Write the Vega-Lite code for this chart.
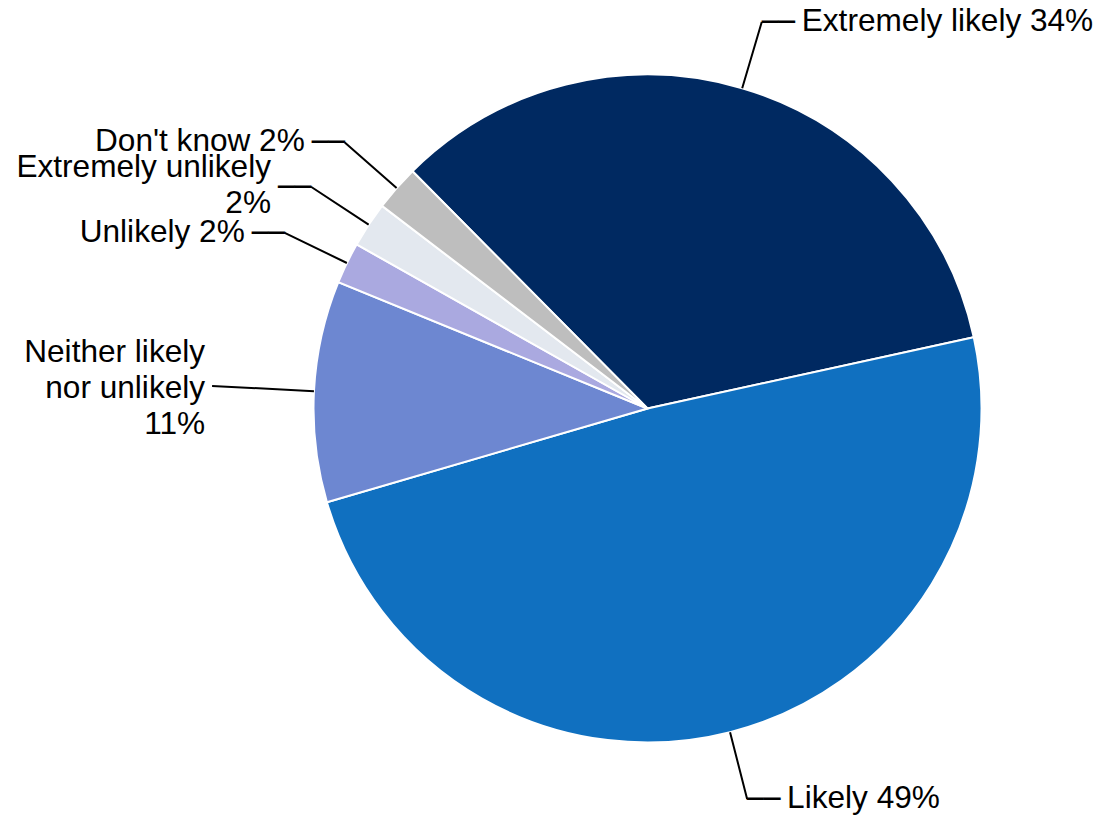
{
  "$schema": "https://vega.github.io/schema/vega-lite/v6.json",
  "width": 907,
  "height": 811,
  "autosize": "none",
  "padding": {"left": 194, "top": 3, "right": 1, "bottom": 1},
  "background": "white",
  "view": {"stroke": null},
  "data": {
    "values": [
      {"category": "Extremely likely", "value": 34.0, "label": "Extremely likely 34%"},
      {"category": "Likely", "value": 48.9, "label": "Likely 49%"},
      {"category": "Neither likely nor unlikely", "value": 10.7, "label": "Neither likely\nnor unlikely\n11%"},
      {"category": "Unlikely", "value": 2.0, "label": "Unlikely 2%"},
      {"category": "Extremely unlikely", "value": 2.2, "label": "Extremely unlikely\n2%"},
      {"category": "Don't know", "value": 2.2, "label": "Don't know 2%"}
    ]
  },
  "transform": [{"window": [{"op": "row_number", "as": "rank"}]}],
  "encoding": {
    "theta": {"field": "value", "type": "quantitative", "stack": true, "scale": {"range": [-0.7807, 5.5025]}},
    "order": {"field": "rank", "type": "quantitative"},
    "detail": {"field": "category", "type": "nominal"}
  },
  "layer": [
    {
      "mark": {"type": "arc", "outerRadius": 334, "stroke": "white", "strokeWidth": 2},
      "encoding": {
        "color": {
          "field": "category", "type": "nominal", "legend": null,
          "scale": {
            "domain": ["Extremely likely", "Likely", "Neither likely nor unlikely", "Unlikely", "Extremely unlikely", "Don't know"],
            "range": ["#002961", "#1070C0", "#6D87D1", "#AAA9E0", "#E3E8EF", "#BEBEBE"]
          }
        }
      }
    },
    {
      "mark": {"type": "arc", "outerRadius": 403, "innerRadius": 334, "padAngle": 3.1416, "fillOpacity": 0, "stroke": "black", "strokeWidth": 2},
      "encoding": {
        "strokeOpacity": {"condition": {"test": {"field": "category", "equal": "Neither likely nor unlikely"}, "value": 0}, "value": 1}
      }
    },
    {
      "mark": {"type": "arc", "outerRadius": 436, "innerRadius": 334, "padAngle": 3.1416, "fillOpacity": 0, "stroke": "black", "strokeWidth": 2},
      "encoding": {
        "strokeOpacity": {"condition": {"test": {"field": "category", "equal": "Neither likely nor unlikely"}, "value": 1}, "value": 0}
      }
    },
    {
      "mark": {"type": "text", "align": "left", "baseline": "middle", "dx": 0, "dy": 1, "font": "DejaVu Sans", "fontSize": 27.5, "color": "black"},
      "encoding": {
        "radius": {"value": 403},
        "text": {"condition": {"test": {"field": "category", "oneOf": ["Extremely likely", "Likely"]}, "value": "──"}, "value": ""}
      }
    },
    {
      "mark": {"type": "text", "align": "right", "baseline": "middle", "dx": 0, "dy": 1, "font": "DejaVu Sans", "fontSize": 27.5, "color": "black"},
      "encoding": {
        "radius": {"value": 403},
        "text": {"condition": {"test": {"field": "category", "oneOf": ["Unlikely", "Extremely unlikely", "Don't know"]}, "value": "──"}, "value": ""}
      }
    },
    {
      "mark": {"type": "text", "align": "left", "baseline": "middle", "dx": 40, "font": "Liberation Sans", "fontSize": 31.6, "lineBreak": "\n", "lineHeight": 36, "color": "black"},
      "encoding": {
        "radius": {"value": 403},
        "text": {"condition": {"test": {"field": "category", "oneOf": ["Extremely likely", "Likely"]}, "field": "label", "type": "nominal"}, "value": ""}
      }
    },
    {
      "mark": {"type": "text", "align": "right", "baseline": "middle", "dx": -40, "font": "Liberation Sans", "fontSize": 31.6, "lineBreak": "\n", "lineHeight": 36, "color": "black"},
      "encoding": {
        "radius": {"value": 403},
        "text": {"condition": {"test": {"field": "category", "oneOf": ["Unlikely", "Don't know"]}, "field": "label", "type": "nominal"}, "value": ""}
      }
    },
    {
      "mark": {"type": "text", "align": "right", "baseline": "middle", "dx": -40, "dy": -19, "font": "Liberation Sans", "fontSize": 31.6, "lineBreak": "\n", "lineHeight": 36, "color": "black"},
      "encoding": {
        "radius": {"value": 403},
        "text": {"condition": {"test": {"field": "category", "equal": "Extremely unlikely"}, "field": "label", "type": "nominal"}, "value": ""}
      }
    },
    {
      "mark": {"type": "text", "align": "right", "baseline": "middle", "dx": -7, "dy": -33, "font": "Liberation Sans", "fontSize": 31.6, "lineBreak": "\n", "lineHeight": 36, "color": "black"},
      "encoding": {
        "radius": {"value": 436},
        "text": {"condition": {"test": {"field": "category", "equal": "Neither likely nor unlikely"}, "field": "label", "type": "nominal"}, "value": ""}
      }
    }
  ]
}
